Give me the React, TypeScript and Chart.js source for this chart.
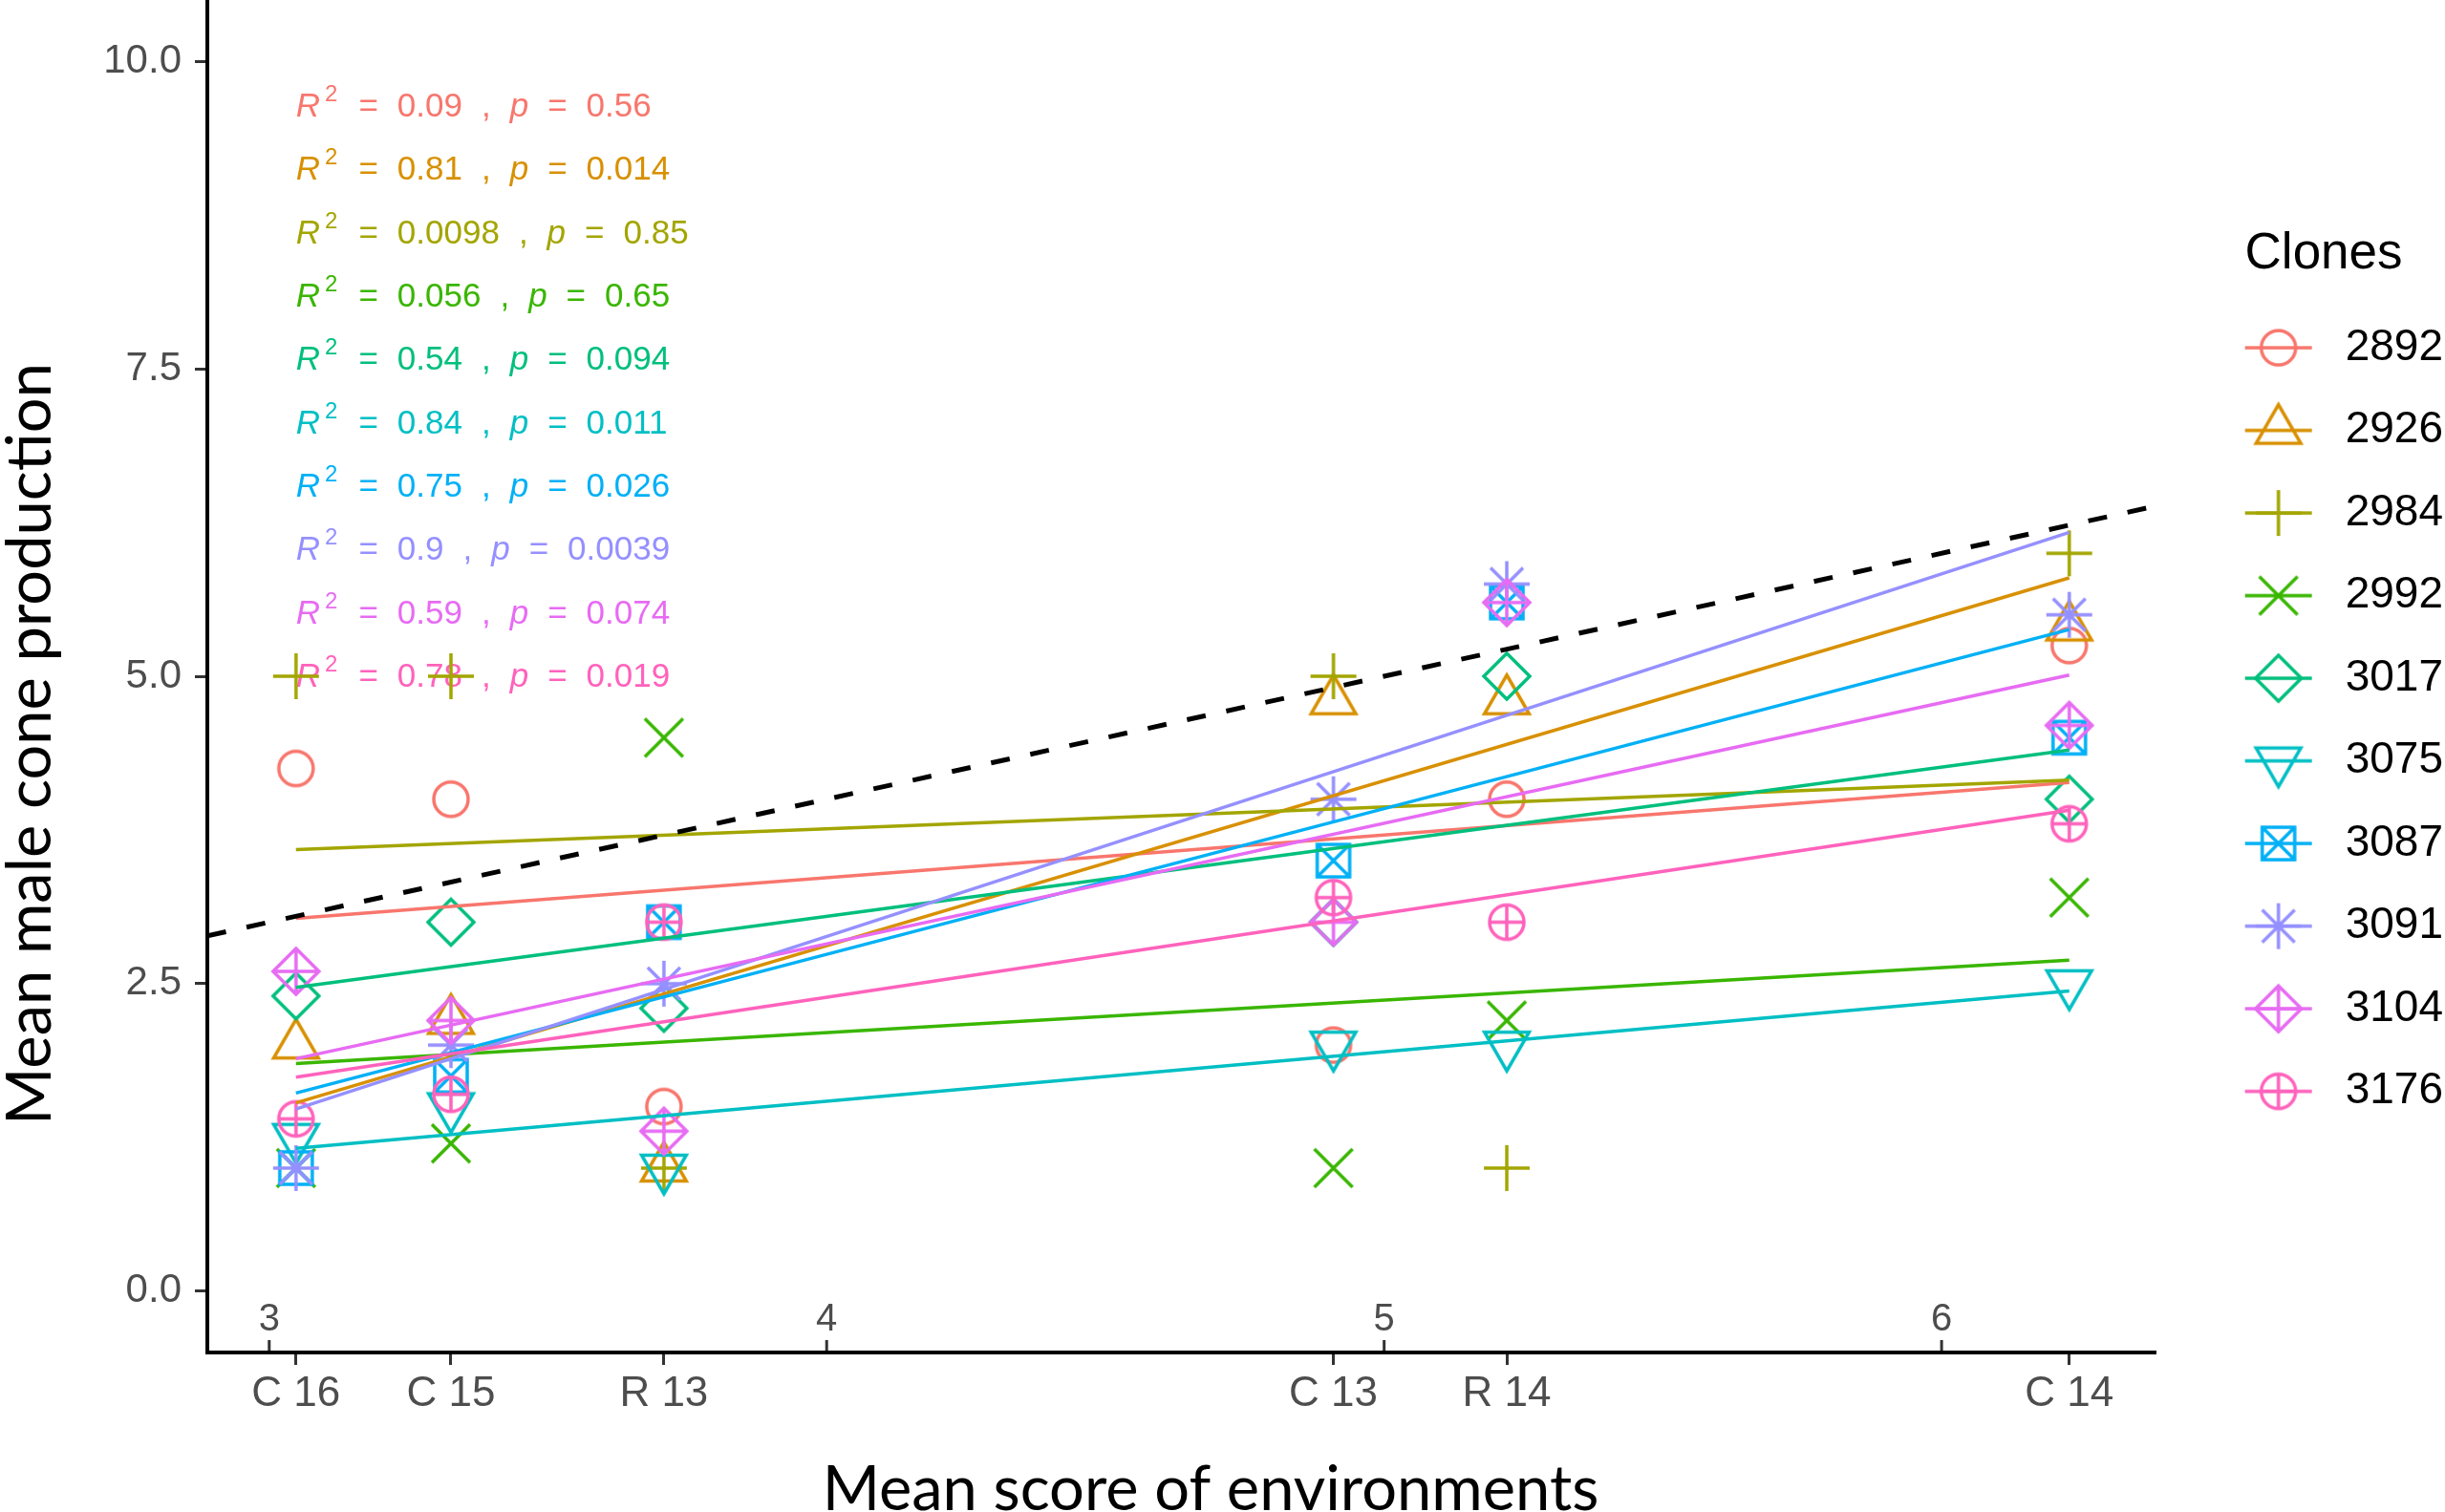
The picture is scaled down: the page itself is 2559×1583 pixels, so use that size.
import React, { useEffect, useRef } from "react";
import { Chart, registerables } from "chart.js";

Chart.register(...registerables);

// Clones, colours (ggplot hue palette) and point shapes
const clones = ["2892", "2926", "2984", "2992", "3017", "3075", "3087", "3091", "3104", "3176"];
const cloneColors = ["#F8766D", "#D89000", "#A3A500", "#39B600", "#00BF7D", "#00BFC4", "#00B0F6", "#9590FF", "#E76BF3", "#FF62BC"];
const cloneShapes = ["circle", "triangle", "plus", "cross", "diamond", "triangleDown", "squareCross", "asterisk", "diamondPlus", "circlePlus"];

// Environments and their mean score
const envLabels = ["C 16", "C 15", "R 13", "C 13", "R 14", "C 14"];
const envScores = [3.048, 3.326, 3.708, 4.909, 5.22, 6.229];

// Mean male cone production, in envLabels order
const cones2892 = [4.25, 4.0, 1.5, 2.0, 4.0, 5.25];
const cones2926 = [2.0, 2.2, 1.0, 4.8, 4.8, 5.4];
const cones2984 = [5.0, 5.0, 1.0, 5.0, 1.0, 6.0];
const cones2992 = [1.0, 1.2, 4.5, 1.0, 2.2, 3.2];
const cones3017 = [2.4, 3.0, 2.3, 3.0, 5.0, 4.0];
const cones3075 = [1.25, 1.5, 1.0, 2.0, 2.0, 2.5];
const cones3087 = [1.0, 1.75, 3.0, 3.5, 5.6, 4.5];
const cones3091 = [1.0, 2.0, 2.5, 4.0, 5.75, 5.5];
const cones3104 = [2.6, 2.2, 1.3, 3.0, 5.6, 4.6];
const cones3176 = [1.4, 1.6, 3.0, 3.2, 3.0, 3.8];
const coneValues = [cones2892, cones2926, cones2984, cones2992, cones3017, cones3075, cones3087, cones3091, cones3104, cones3176];

// Fitted regression lines, value at C 16 and at C 14
const fitStart = [3.03, 1.53, 3.59, 1.85, 2.47, 1.16, 1.61, 1.48, 1.89, 1.74];
const fitEnd = [4.135, 5.8, 4.155, 2.69, 4.4, 2.44, 5.38, 6.17, 5.01, 3.91];

const rSquared = ["0.09", "0.81", "0.0098", "0.056", "0.54", "0.84", "0.75", "0.9", "0.59", "0.78"];
const pValues = ["0.56", "0.014", "0.85", "0.65", "0.094", "0.011", "0.026", "0.0039", "0.074", "0.019"];

const yTicks = [0, 2.5, 5, 7.5, 10];
const scoreTicks = [3, 4, 5, 6];
const xRange = [2.889, 6.384];
const yRange = [-0.5, 10.5];

const sansFamily = "'Liberation Sans', Arial, sans-serif";
const titleFamily = "Lato, 'Open Sans', sans-serif";
const strokeW = 3.5;

function drawShape(ctx: CanvasRenderingContext2D, shape: string, cx: number, cy: number) {
  const seg = (x1: number, y1: number, x2: number, y2: number) => {
    ctx.moveTo(x1, y1);
    ctx.lineTo(x2, y2);
  };
  const diamond = (r: number) => {
    ctx.moveTo(cx, cy - r);
    ctx.lineTo(cx + r, cy);
    ctx.lineTo(cx, cy + r);
    ctx.lineTo(cx - r, cy);
    ctx.closePath();
  };
  ctx.beginPath();
  switch (shape) {
    case "circle":
      ctx.arc(cx, cy, 18, 0, Math.PI * 2);
      break;
    case "triangle":
      ctx.moveTo(cx, cy - 27);
      ctx.lineTo(cx + 23.4, cy + 13.5);
      ctx.lineTo(cx - 23.4, cy + 13.5);
      ctx.closePath();
      break;
    case "triangleDown":
      ctx.moveTo(cx, cy + 27);
      ctx.lineTo(cx + 23.4, cy - 13.5);
      ctx.lineTo(cx - 23.4, cy - 13.5);
      ctx.closePath();
      break;
    case "plus":
      seg(cx - 24, cy, cx + 24, cy);
      seg(cx, cy - 24, cx, cy + 24);
      break;
    case "cross":
      seg(cx - 20, cy - 20, cx + 20, cy + 20);
      seg(cx - 20, cy + 20, cx + 20, cy - 20);
      break;
    case "diamond":
      diamond(24);
      break;
    case "squareCross":
      ctx.rect(cx - 17, cy - 17, 34, 34);
      seg(cx - 17, cy - 17, cx + 17, cy + 17);
      seg(cx - 17, cy + 17, cx + 17, cy - 17);
      break;
    case "asterisk":
      seg(cx - 24, cy, cx + 24, cy);
      seg(cx, cy - 24, cx, cy + 24);
      seg(cx - 17, cy - 17, cx + 17, cy + 17);
      seg(cx - 17, cy + 17, cx + 17, cy - 17);
      break;
    case "diamondPlus":
      diamond(24);
      seg(cx - 24, cy, cx + 24, cy);
      seg(cx, cy - 24, cx, cy + 24);
      break;
    case "circlePlus":
      ctx.arc(cx, cy, 18, 0, Math.PI * 2);
      seg(cx - 18, cy, cx + 18, cy);
      seg(cx, cy - 18, cx, cy + 18);
      break;
  }
  ctx.stroke();
}

function makeSymbol(shape: string, color: string, withLine: boolean) {
  const c = document.createElement("canvas");
  c.width = withLine ? 94 : 64;
  c.height = 64;
  const ctx = c.getContext("2d")!;
  ctx.strokeStyle = color;
  ctx.lineWidth = strokeW;
  if (withLine) {
    ctx.beginPath();
    ctx.moveTo(12, 32);
    ctx.lineTo(82, 32);
    ctx.stroke();
  }
  drawShape(ctx, shape, c.width / 2, 32);
  return c;
}

// R² and p labels, drawn under the points
const statLabels = {
  id: "statLabels",
  beforeDatasetsDraw(chart: any) {
    const { ctx, scales } = chart;
    const gap = 20;
    ctx.save();
    ctx.textBaseline = "alphabetic";
    ctx.textAlign = "left";
    clones.forEach((_c, i) => {
      let px = scales.x.getPixelForValue(envScores[0]);
      const py = scales.y.getPixelForValue(9.554 - i * 0.5156);
      ctx.fillStyle = cloneColors[i];
      const put = (text: string, font: string, dy = 0, after = gap) => {
        ctx.font = font;
        ctx.fillText(text, px, py + dy);
        px += ctx.measureText(text).width + after;
      };
      const plain = `35px ${sansFamily}`;
      const italic = `italic 35px ${sansFamily}`;
      put("R", italic, 0, 5);
      put("2", `24px ${sansFamily}`, -16, gap + 2);
      put("=", plain);
      put(rSquared[i], plain);
      put(",", plain);
      put("p", italic);
      put("=", plain);
      put(pValues[i], plain);
    });
    ctx.restore();
  },
};

// secondary score ticks above the x axis, and both axis titles
const axisExtras = {
  id: "axisExtras",
  afterDraw(chart: any) {
    const { ctx, scales, chartArea } = chart;
    ctx.save();
    ctx.strokeStyle = "#333333";
    ctx.lineWidth = 3;
    ctx.fillStyle = "#4D4D4D";
    ctx.font = `40px ${sansFamily}`;
    ctx.textAlign = "center";
    ctx.textBaseline = "alphabetic";
    scoreTicks.forEach((v) => {
      const px = scales.x.getPixelForValue(v);
      ctx.beginPath();
      ctx.moveTo(px, chartArea.bottom - 2);
      ctx.lineTo(px, chartArea.bottom - 13);
      ctx.stroke();
      ctx.fillText(String(v), px, chartArea.bottom - 23);
    });

    ctx.fillStyle = "#000000";
    ctx.font = `65px ${titleFamily}`;
    ctx.fillText("Mean score of environments", 1267, 1581);

    ctx.translate(53, 779);
    ctx.rotate(-Math.PI / 2);
    ctx.fillText("Mean male cone production", 0, 0);
    ctx.restore();
  },
};

const App: React.FC = () => {
  const canvasRef = useRef<HTMLCanvasElement>(null);
  const chartRef = useRef<Chart | null>(null);

  useEffect(() => {
    if (!canvasRef.current) return;
    const ctx = canvasRef.current.getContext("2d");
    if (!ctx) return;

    const pointImages = clones.map((_c, i) => makeSymbol(cloneShapes[i], cloneColors[i], false));
    const legendKeys = clones.map((_c, i) => makeSymbol(cloneShapes[i], cloneColors[i], true));

    const pointSets = clones.map((clone, i) => ({
      type: "scatter" as const,
      label: clone,
      data: envScores.map((x, j) => ({ x, y: coneValues[i][j] })),
      pointStyle: pointImages[i],
      pointRadius: 20,
      pointHoverRadius: 20,
      showLine: false,
      order: 20 - i,
    }));

    const fitSets = clones.map((clone, i) => ({
      type: "line" as const,
      label: `${clone} fit`,
      data: [
        { x: envScores[0], y: fitStart[i] },
        { x: envScores[envScores.length - 1], y: fitEnd[i] },
      ],
      borderColor: cloneColors[i],
      borderWidth: strokeW,
      pointRadius: 0,
      showLine: true,
      order: 10 - i,
    }));

    const oneToOne = {
      type: "line" as const,
      label: "1:1",
      data: [
        { x: xRange[0], y: xRange[0] },
        { x: xRange[1], y: xRange[1] },
      ],
      borderColor: "#000000",
      borderWidth: 5,
      borderDash: [20, 22],
      pointRadius: 0,
      showLine: true,
      order: 0,
    };

    if (chartRef.current) chartRef.current.destroy();

    chartRef.current = new Chart(ctx, {
      type: "scatter",
      data: { datasets: [oneToOne, ...fitSets, ...pointSets] as any },
      options: {
        animation: false,
        responsive: true,
        maintainAspectRatio: false,
        events: [],
        layout: { autoPadding: false, padding: { top: 0, left: 0, bottom: 0, right: -8 } },
        scales: {
          x: {
            type: "linear",
            min: xRange[0],
            max: xRange[1],
            afterBuildTicks: (s: any) => {
              s.ticks = envScores.map((value) => ({ value }));
            },
            afterFit: (s: any) => {
              s.height = 167;
              s.paddingLeft = 0;
              s.paddingRight = 0;
            },
            ticks: {
              autoSkip: false,
              maxRotation: 0,
              minRotation: 0,
              padding: 4,
              color: "#4D4D4D",
              font: { family: sansFamily, size: 44 },
              callback: (_v: any, i: number) => envLabels[i],
            },
            grid: { display: true, drawOnChartArea: false, drawTicks: true, tickLength: 13, tickWidth: 3, tickColor: "#333333" },
            border: { display: true, color: "#000000", width: 4 },
          },
          y: {
            type: "linear",
            min: yRange[0],
            max: yRange[1],
            afterBuildTicks: (s: any) => {
              s.ticks = yTicks.map((value) => ({ value }));
            },
            afterFit: (s: any) => {
              s.width = 217;
              s.paddingTop = 0;
              s.paddingBottom = 0;
            },
            ticks: {
              padding: 14,
              color: "#4D4D4D",
              font: { family: sansFamily, size: 42 },
              callback: (v: any) => Number(v).toFixed(1),
            },
            grid: { display: true, drawOnChartArea: false, drawTicks: true, tickLength: 13, tickWidth: 3, tickColor: "#333333" },
            border: { display: true, color: "#000000", width: 4 },
          },
          gap: {
            type: "linear",
            axis: "y",
            position: "right",
            display: true,
            ticks: { display: false },
            grid: { display: false },
            border: { display: false },
            afterFit: (s: any) => {
              s.width = 41;
              s.paddingTop = 0;
              s.paddingBottom = 0;
            },
          },
        },
        plugins: {
          tooltip: { enabled: false },
          legend: {
            position: "right",
            align: "start",
            onClick: () => {},
            title: {
              display: true,
              text: "Clones",
              color: "#000000",
              position: "center",
              font: { family: sansFamily, size: 53 },
              padding: { top: 240, bottom: -3 },
            },
            labels: {
              usePointStyle: true,
              pointStyleWidth: 94,
              padding: 40.5,
              color: "#000000",
              font: { family: sansFamily, size: 46 },
              generateLabels: () =>
                clones.map((clone, i) => ({
                  text: clone,
                  pointStyle: legendKeys[i],
                  fillStyle: "rgba(0,0,0,0)",
                  strokeStyle: "rgba(0,0,0,0)",
                  fontColor: "#000000",
                  lineWidth: 0,
                  hidden: false,
                  datasetIndex: i,
                })),
            },
          },
        },
      } as any,
      plugins: [statLabels, axisExtras],
    });

    return () => {
      if (chartRef.current) {
        chartRef.current.destroy();
        chartRef.current = null;
      }
    };
  }, []);

  return (
    <div style={{ position: "fixed", left: 0, top: 0, width: "100vw", height: "100vh", background: "#ffffff" }}>
      <canvas ref={canvasRef}></canvas>
    </div>
  );
};

export default App;
